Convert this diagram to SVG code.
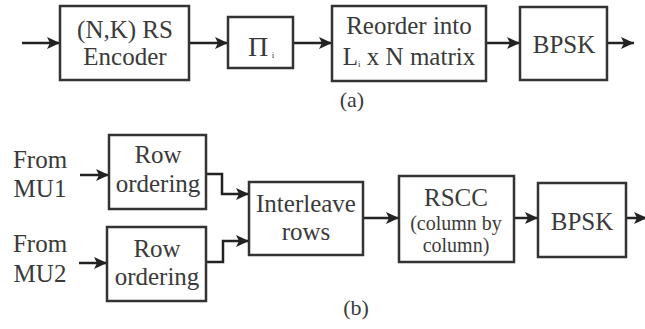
<svg xmlns="http://www.w3.org/2000/svg" width="645" height="329" viewBox="0 0 645 329">
<style>
.box{fill:#fff;stroke:#333;stroke-width:2.5}
.ln{fill:none;stroke:#222;stroke-width:2.5;marker-end:url(#ah)}
.t{fill:#3a3a3a;font-size:25px;text-anchor:middle}
.sm{font-size:20px}
.sub{font-size:9px}
</style>
<defs>
<marker id="ah" markerUnits="userSpaceOnUse" markerWidth="14" markerHeight="12" refX="13" refY="6" orient="auto">
<path d="M0,0 L13,6 L0,12 L3,6 Z" fill="#222"/>
</marker>
</defs>
<rect width="645" height="329" fill="#fff"/>
<g id="connectors">
<line class="ln" x1="22" y1="43" x2="60" y2="43"/>
<line class="ln" x1="189" y1="43" x2="228" y2="43"/>
<line class="ln" x1="293" y1="43" x2="332" y2="43"/>
<line class="ln" x1="486" y1="43" x2="520" y2="43"/>
<line class="ln" x1="607" y1="43" x2="634" y2="43"/>
<line class="ln" x1="80" y1="175" x2="109" y2="175"/>
<line class="ln" x1="79" y1="263" x2="107" y2="263"/>
<polyline class="ln" points="206,174 222,174 222,194 249,194"/>
<polyline class="ln" points="206,262 223,262 223,241 249,241"/>
<line class="ln" x1="363" y1="218" x2="399" y2="218"/>
<line class="ln" x1="514" y1="218" x2="538" y2="218"/>
<line class="ln" x1="626" y1="218" x2="647" y2="218"/>
</g>
<g font-family="Liberation Serif, serif" class="t">
<g id="rs-encoder">
<rect class="box" x="60" y="6" width="129" height="74"/>
<text x="125" y="38">(N,K) RS</text>
<text x="125" y="65">Encoder</text>
</g>
<g id="pi">
<rect class="box" x="228" y="17" width="65" height="51"/>
<text x="258" y="56" font-size="28">Π</text>
<text class="sub" x="273" y="58">i</text>
</g>
<g id="reorder">
<rect class="box" x="332" y="6" width="154" height="75"/>
<text x="409" y="34">Reorder into</text>
<text x="409" y="65"><tspan>L</tspan><tspan class="sub" dy="2">i</tspan><tspan dy="-2"> x N matrix</tspan></text>
</g>
<g id="bpsk-a">
<rect class="box" x="520" y="7" width="87" height="73"/>
<text x="564" y="53">BPSK</text>
</g>
<text id="label-a" x="352" y="107" font-size="22">(a)</text>
<g id="src1">
<text x="40" y="168">From</text>
<text x="40" y="197">MU1</text>
</g>
<g id="src2">
<text x="40" y="252">From</text>
<text x="40" y="282">MU2</text>
</g>
<g id="row1">
<rect class="box" x="109" y="135" width="97" height="74"/>
<text x="158" y="163">Row</text>
<text x="158" y="192">ordering</text>
</g>
<g id="row2">
<rect class="box" x="107" y="227" width="99" height="74"/>
<text x="157" y="257">Row</text>
<text x="157" y="285">ordering</text>
</g>
<g id="interleave">
<rect class="box" x="249" y="182" width="114" height="73"/>
<text x="306" y="212">Interleave</text>
<text x="306" y="240">rows</text>
</g>
<g id="rscc">
<rect class="box" x="399" y="176" width="115" height="86"/>
<text x="456" y="206">RSCC</text>
<text class="sm" x="456" y="230">(column by</text>
<text class="sm" x="456" y="252">column)</text>
</g>
<g id="bpsk-b">
<rect class="box" x="538" y="183" width="88" height="74"/>
<text x="582" y="230">BPSK</text>
</g>
<text id="label-b" x="356" y="315" font-size="22">(b)</text>
</g>
</svg>
